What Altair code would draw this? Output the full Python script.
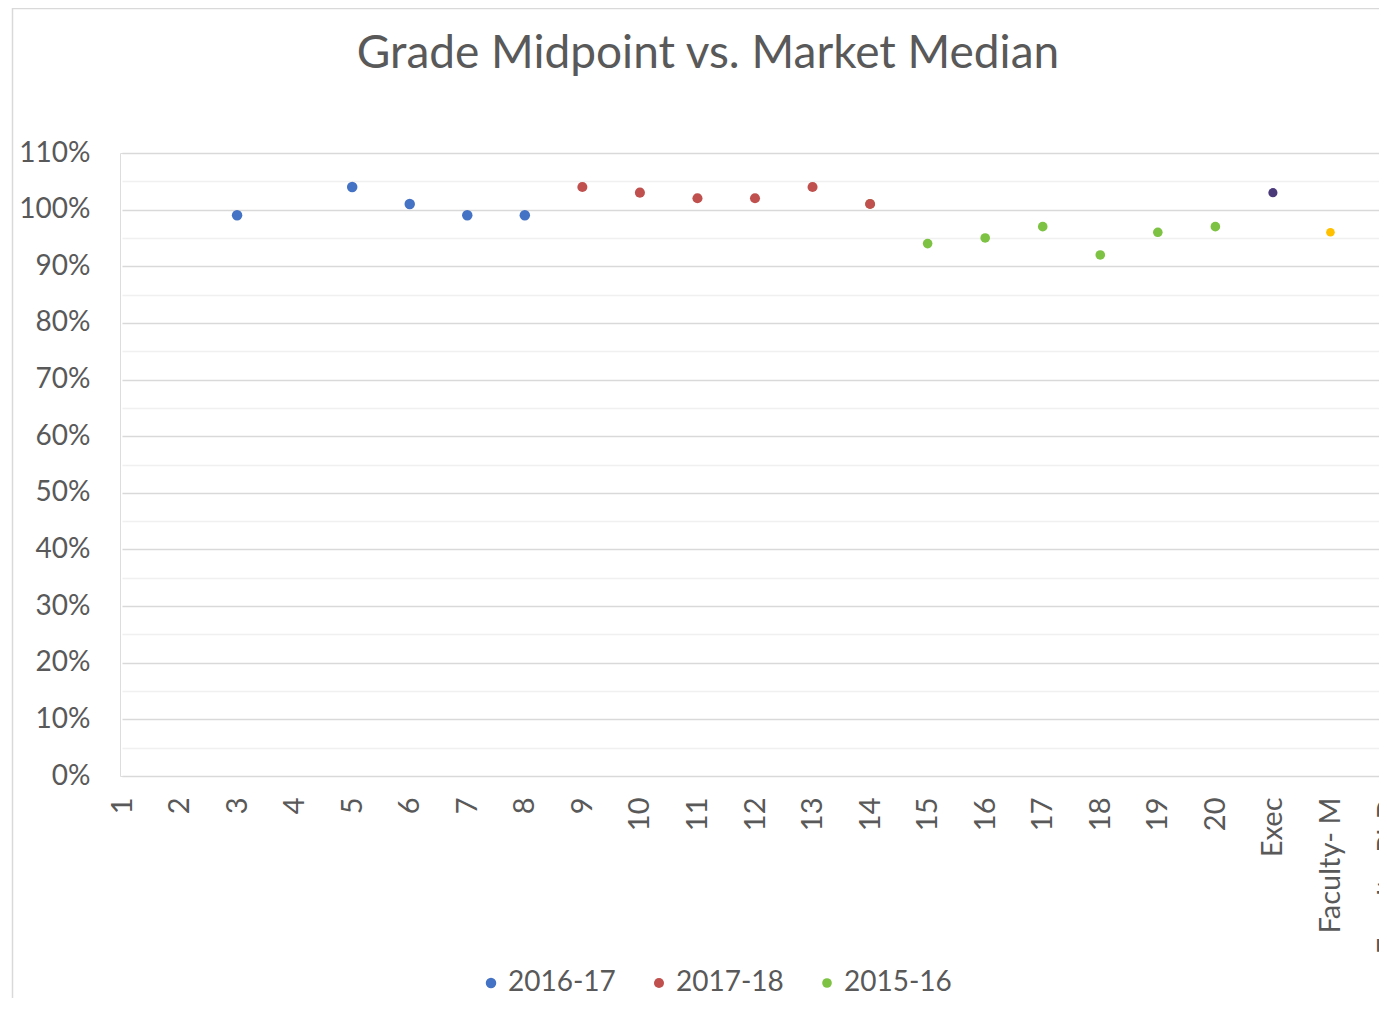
import altair as alt
import pandas as pd

categories = [str(i) for i in range(1, 21)] + ["Exec", "Faculty- M", "Faculty-PhD"]

series_names = ["2016-17", "2017-18", "2015-16", "Exec", "Faculty"]
series_colors = ["#4472C4", "#C0504D", "#7DC242", "#4B3A7A", "#FFC000"]
series_sizes = [110, 75, 110, 110, 130]

s_2016_17 = {"3": 99, "5": 104, "6": 101, "7": 99, "8": 99}
s_2017_18 = {"9": 104, "10": 103, "11": 102, "12": 102, "13": 104, "14": 101}
s_2015_16 = {"14": 101, "15": 94, "16": 95, "17": 97, "18": 92, "19": 96, "20": 97}
s_exec = {"Exec": 103}
s_faculty = {"Faculty- M": 96, "Faculty-PhD": 99}

title_text = "Grade Midpoint vs. Market Median"

rows = []
draw_order = [("2016-17", s_2016_17), ("2015-16", s_2015_16), ("2017-18", s_2017_18),
              ("Exec", s_exec), ("Faculty", s_faculty)]
for name, s in draw_order:
    for cat, v in s.items():
        rows.append({"grade": cat, "pct": v, "series": name})
df = pd.DataFrame(rows)

FONT = "Lato"
TXT = "#595959"

points = alt.Chart(df).mark_circle(opacity=1).encode(
    x=alt.X("grade:O", sort=categories,
            scale=alt.Scale(domain=categories, type="point", range=[2, 1268], padding=0),
            axis=alt.Axis(title=None, labelAngle=270, labelFontSize=29, labelFont=FONT,
                          labelColor=TXT, ticks=False, domain=False, labelPadding=21,
                          grid=False)),
    y=alt.Y("pct:Q", scale=alt.Scale(domain=[0, 110], nice=False),
            axis=alt.Axis(title=None, values=list(range(0, 111, 5)),
                          labelExpr="datum.value % 10 === 0 ? datum.value + '%' : ''",
                          labelFontSize=28, labelFont=FONT, labelColor=TXT,
                          ticks=False, domain=False, labelPadding=30,
                          gridColor={"condition": {"test": "datum.value % 10 === 0", "value": "#d9d9d9"},
                                     "value": "#f0f0f0"},
                          gridWidth=1.5)),
    color=alt.Color("series:N",
                    scale=alt.Scale(domain=series_names, range=series_colors),
                    legend=alt.Legend(title=None, values=series_names[:3], orient="none",
                                      direction="horizontal", legendX=357, legendY=816,
                                      labelFontSize=28, labelFont=FONT, labelColor=TXT,
                                      symbolType="circle", symbolSize=55, columnPadding=29,
                                      labelOffset=3, symbolStrokeWidth=0)),
    size=alt.Size("series:N", scale=alt.Scale(domain=series_names, range=series_sizes), legend=None),
)

title = alt.Chart(pd.DataFrame({"t": [title_text]})).mark_text(
    font=FONT, fontSize=46, color=TXT, align="center", baseline="alphabetic").encode(
    text="t:N", x=alt.value(588), y=alt.value(-85))

border_left = alt.Chart(pd.DataFrame({"a": [0]})).mark_rule(color="#d9d9d9", strokeWidth=1.5).encode(
    x=alt.value(-107.5), y=alt.value(-145), y2=alt.value(870))
border_top = alt.Chart(pd.DataFrame({"a": [0]})).mark_rule(color="#d9d9d9", strokeWidth=1.5).encode(
    x=alt.value(-107.5), x2=alt.value(1300), y=alt.value(-144.5))

chart = alt.layer(border_left, border_top, title, points).properties(
    width=1259, height=623,
    autosize=alt.AutoSizeParams(type="none"),
    padding={"left": 112, "top": 145, "right": 0, "bottom": 222},
).configure_view(stroke=None).configure(background="white")

chart.save("out.html", embed_options={"renderer": "svg", "actions": False})
